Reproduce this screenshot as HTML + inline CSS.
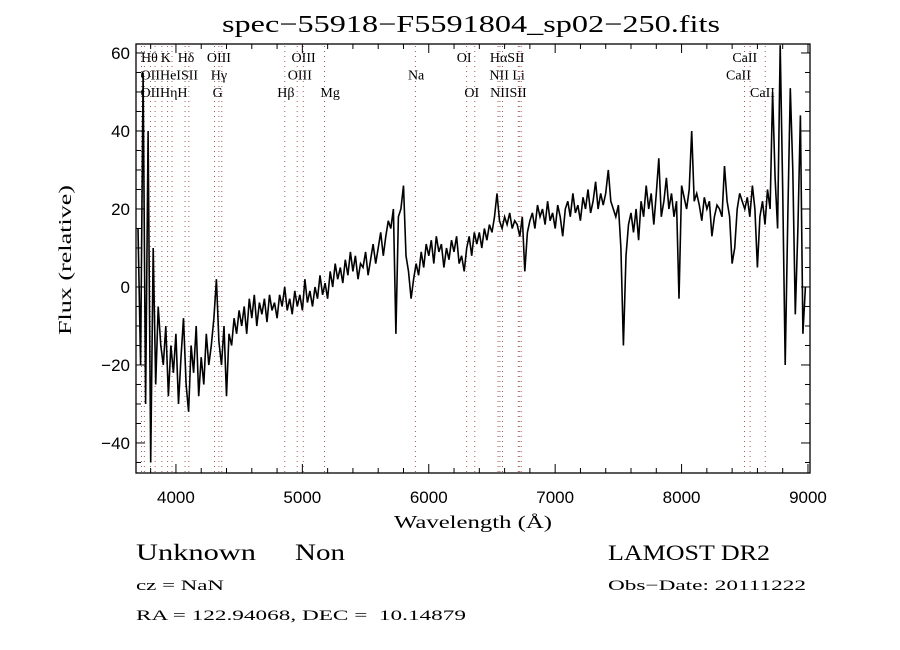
<!DOCTYPE html>
<html><head><meta charset="utf-8">
<style>
html,body{margin:0;padding:0;background:#fff;width:900px;height:650px;overflow:hidden}
svg{display:block}
text{white-space:pre}
.ser{font-family:"Liberation Serif",serif;fill:#000}
.san{font-family:"Liberation Sans",sans-serif;fill:#000}
</style></head>
<body>
<svg id="chart" width="900" height="650" viewBox="0 0 900 650" xmlns="http://www.w3.org/2000/svg" xml:space="preserve">
<rect x="0" y="0" width="900" height="650" fill="#fff"/>
<text class="ser" x="222" y="32" font-size="24" textLength="498" lengthAdjust="spacingAndGlyphs">spec−55918−F5591804_sp02−250.fits</text>
<g id="lines"></g>
<g id="spec"></g>
<rect x="136" y="44" width="674" height="429" fill="none" stroke="#000" stroke-width="1.3"/>
<g id="ticks"></g>
<text class="ser" x="473" y="528" font-size="18" text-anchor="middle" textLength="158" lengthAdjust="spacingAndGlyphs">Wavelength (Å)</text>
<text class="ser" transform="translate(71,260) rotate(-90)" font-size="18" text-anchor="middle" textLength="150" lengthAdjust="spacingAndGlyphs">Flux (relative)</text>
<text class="ser" x="136" y="560" font-size="23" textLength="120" lengthAdjust="spacingAndGlyphs">Unknown</text>
<text class="ser" x="295" y="560" font-size="23" textLength="50" lengthAdjust="spacingAndGlyphs">Non</text>
<text class="ser" x="136" y="590" font-size="15" textLength="88" lengthAdjust="spacingAndGlyphs">cz = NaN</text>
<text class="ser" x="136" y="620" font-size="15" textLength="330" lengthAdjust="spacingAndGlyphs">RA = 122.94068, DEC =  10.14879</text>
<text class="ser" x="608" y="560" font-size="22" textLength="162" lengthAdjust="spacingAndGlyphs">LAMOST DR2</text>
<text class="ser" x="608" y="590" font-size="15" textLength="198" lengthAdjust="spacingAndGlyphs">Obs−Date: 20111222</text>
</svg>
<script>
const startWave = 3700;
const stepWave = 20;
const flux = [
15,-20,55,-30,40, -45,10,-25,-5,-15, -20,-10,-28,-15,-22, -12,-30,-18,-8,-25,
-32,-15,-22,-10,-28, -18,-25,-12,-20,-15, -8,2,-14,-20,-10, -28,-12,-15,-8,-12,
-6,-10,-5,-12,-3, -8,-2,-10,-4,-7, -3,-9,-2,-6,-4, -8,-2,-5,0,-6,
-3,-7,-1,-5,-2, -6,2,-4,-1,-5, 0,-3,3,-2,1, -3,4,0,6,2,
5,1,7,3,9, 4,8,2,6,5, 9,3,7,11,6, 10,14,8,13,17,
15,20,-12,18,20, 26,8,4,-3,2, 6,3,9,5,11, 8,12,6,13,9,
11,5,10,7,12, 9,13,6,8,4, 10,13,8,14,11, 14,10,15,12,16,
14,18,24,17,15, 18,16,19,15,17, 16,13,18,4,14, 17,19,15,21,18,
20,16,22,17,19, 15,21,18,13,20, 22,18,24,19,21, 17,23,20,25,19,
22,27,20,24,21, 24,30,22,20,18, 21,10,-15,8,16, 19,14,20,12,22,
18,26,20,24,16, 24,33,18,22,28, 20,24,18,22,-3, 26,23,20,25,40,
22,24,21,17,23, 20,22,13,18,21, 20,18,31,22,18, 6,10,20,24,22,
20,23,18,26,20, 5,18,22,16,25, 20,50,28,15,62, 25,-20,18,51,30,
-7,15,44,-12,0
];
const lineWaves = [3727,3750,3798,3835,3889,3934,3969,4072,4102,4305,4340,4363,4861,4959,5007,5175,5894,6300,6364,6548,6563,6583,6708,6716,6731,8498,8542,8662];
const labelTexts = ["Hθ","K","Hδ","OIII","OIII","OI","HαSII","CaII","OIIHeISII","Hγ","OIII","Na","NII Li","CaII","OIIHηH","G","Hβ","Mg","OI","NIISII","CaII"];
const labelWaves = [3790,3920,4080,4340,5010,6280,6620,8500,3720,4340,4980,5900,6620,8450,3720,4330,4870,5220,6340,6630,8640];
const labelRows = [0,0,0,0,0,0,0,0,1,1,1,1,1,1,2,2,2,2,2,2,2];
const xTicks = [4000,5000,6000,7000,8000,9000];
const yTicks = [-40,-20,0,20,40,60];

const X0=136,X1=810,Y0=44,Y1=473;
const WMIN=3684,WMAX=9016,FMIN=-47.7,FMAX=62.3;
function xs(w){return X0+(w-WMIN)/(WMAX-WMIN)*(X1-X0);}
function ys(f){return Y1-(f-FMIN)/(FMAX-FMIN)*(Y1-Y0);}
const NS="http://www.w3.org/2000/svg";
function mk(tag,parent){const e=document.createElementNS(NS,tag);parent.appendChild(e);return e;}

const gl=document.getElementById('lines');
lineWaves.forEach(w=>{
  const l=mk('line',gl);
  
  
  l.setAttribute('x1',xs(w));l.setAttribute('x2',xs(w));
  l.setAttribute('y1',Y0+2);l.setAttribute('y2',Y1);
  l.setAttribute('stroke','#9a4a4a');l.setAttribute('stroke-width','0.9');l.setAttribute('stroke-dasharray','1 4');
});
labelTexts.forEach((t,i)=>{
  const e=mk('text',gl);
  
  
  e.setAttribute('class','ser');
  e.setAttribute('x',xs(labelWaves[i]));
  e.setAttribute('y',62+labelRows[i]*17.5);
  e.setAttribute('font-size','14');
  e.setAttribute('text-anchor',labelWaves[i]<3750?'start':'middle');
  e.textContent=t;
});

const gs=document.getElementById('spec');
const p=mk('polyline',gs);


p.setAttribute('points',flux.map((f,i)=>{const fc=Math.max(FMIN,Math.min(FMAX,f));return xs(startWave+i*stepWave).toFixed(1)+','+ys(fc).toFixed(1);}).join(' '));
p.setAttribute('fill','none');p.setAttribute('stroke','#000');p.setAttribute('stroke-width','1.6');p.setAttribute('stroke-linejoin','miter');

const gt=document.getElementById('ticks');
function tl(x1,y1,x2,y2){const l=mk('line',gt);l.setAttribute('x1',x1);l.setAttribute('y1',y1);l.setAttribute('x2',x2);l.setAttribute('y2',y2);l.setAttribute('stroke','#000');l.setAttribute('stroke-width','1');}
for(let w=3800;w<=9000;w+=200){const x=xs(w);const len=(w%1000===0)?9:5;tl(x,Y1,x,Y1-len);tl(x,Y0,x,Y0+len);}
for(let f=-45;f<=60;f+=5){const y=ys(f);const len=(f%20===0)?9:5;tl(X0,y,X0+len,y);tl(X1,y,X1-len,y);}
xTicks.forEach(w=>{
  const e=mk('text',gt);
  
  
  e.setAttribute('class','san');
  e.setAttribute('x',xs(w));e.setAttribute('y',503);e.setAttribute('font-size','17');e.setAttribute('text-anchor','middle');
  e.textContent=w;
});
yTicks.forEach(f=>{
  const e=mk('text',gt);
  
  
  e.setAttribute('class','san');
  e.setAttribute('x',130);e.setAttribute('y',ys(f)+6);e.setAttribute('font-size','17');e.setAttribute('text-anchor','end');
  e.textContent=(f<0?'−'+(-f):f);
});
</script>
</body></html>
